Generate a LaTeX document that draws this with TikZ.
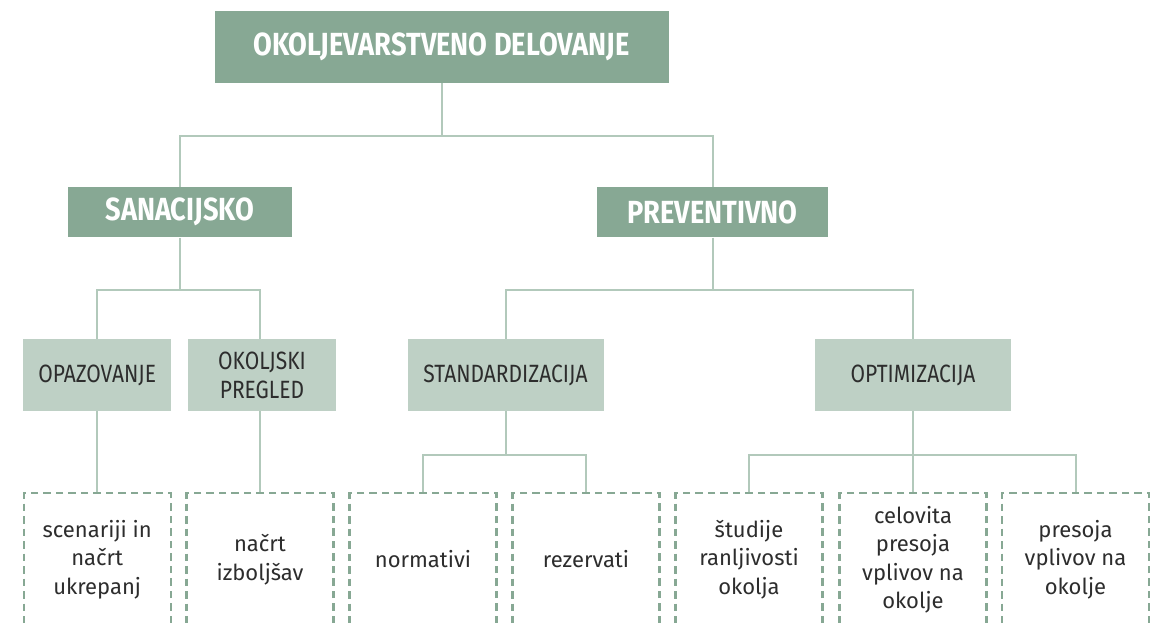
\documentclass[tikz,border=0pt]{standalone}
\usepackage{fontspec}
\newfontfamily\hdfont[FakeStretch=0.85]{Fira Sans}
\newfontfamily\lbfont[FakeStretch=0.84]{Fira Sans}
\newfontfamily\txfont{Fira Sans}
\definecolor{dk}{RGB}{135,168,148}
\definecolor{lt}{RGB}{190,208,197}
\definecolor{ln}{RGB}{178,201,187}
\definecolor{tx}{RGB}{45,45,45}
\pgfdeclarelayer{bg}
\pgfsetlayers{bg,main}
\tikzset{
  topbox/.style={rectangle, fill=dk, text=white, inner sep=0pt,
    font=\hdfont\bfseries\fontsize{32}{38}\selectfont},
  lvlone/.style={rectangle, fill=dk, text=white, inner sep=0pt,
    minimum width=223.5pt, minimum height=50pt,
    font=\hdfont\bfseries\fontsize{32}{38}\selectfont},
  lvltwo/.style={rectangle, fill=lt, text=tx, inner sep=0pt, align=center,
    minimum height=72pt,
    font=\lbfont\fontsize{25}{29}\selectfont},
  leafbox/.style={rectangle, draw=dk, dash pattern=on 7.5pt off 5pt, line width=2.2pt,
    fill=white, text=tx, inner sep=0pt, align=center, minimum width=147pt, minimum height=133pt,
    font=\txfont\fontsize{22}{28.5}\selectfont},
  conn/.style={draw=ln, line width=2pt}
}
\begin{document}
\begin{tikzpicture}[x=1pt,y=1pt]
\useasboundingbox (0,0) rectangle (1163,-623);
\clip (0,0) rectangle (1163,-623);

% junctions
\coordinate (j0) at (441.5,-136.5);
\coordinate (j1) at (180,-290);
\coordinate (j2) at (712.5,-290);
\coordinate (j3) at (505.5,-455.3);
\coordinate (j4) at (913,-455.3);

% nodes
\node[topbox, minimum width=454pt, minimum height=72pt] (top) at (441.5,-47) {OKOLJEVARSTVENO DELOVANJE};
\node[lvlone] (san) at (180,-212.3) {SANACIJSKO};
\node[lvlone, minimum width=231pt] (prev) at (712.5,-212.3) {PREVENTIVNO};

\node[lvltwo, minimum width=148pt] (opa) at (97.2,-375) {OPAZOVANJE};
\node[lvltwo, minimum width=148pt] (okp) at (262,-375) {OKOLJSKI\\PREGLED};
\node[lvltwo, minimum width=196pt] (std) at (505.5,-375) {STANDARDIZACIJA};
\node[lvltwo, minimum width=196pt] (opt) at (913,-375) {OPTIMIZACIJA};

\node[leafbox] (l1) at (97.2,-559.5) {scenariji in\\načrt\\ukrepanj};
\node[leafbox] (l2) at (260,-559.5) {načrt\\izboljšav};
\node[leafbox] (l3) at (423,-559.5) {normativi};
\node[leafbox] (l4) at (586,-559.5) {rezervati};
\node[leafbox] (l5) at (749,-559.5) {študije\\ranljivosti\\okolja};
\node[leafbox] (l6) at (913,-559.5) {celovita\\presoja\\vplivov na\\okolje};
\node[leafbox] (l7) at (1075.5,-559.5) {presoja\\vplivov na\\okolje};

% connectors, behind the boxes
\begin{pgfonlayer}{bg}
\fill[white] (0,0) rectangle (1163,-623);
\draw[conn] (top.south) -- (j0);
\draw[conn] (j0) -| (san.north);
\draw[conn] (j0) -| (prev.north);

\draw[conn] (san.south) -- (j1);
\draw[conn] (j1) -| (opa.north);
\draw[conn] (j1) -| (260,-338.8) coordinate (okptop);
\draw[conn] (opa.south) -- (l1.north);
\draw[conn] (okptop |- okp.south) -- (l2.north);

\draw[conn] (prev.south) -- (j2);
\draw[conn] (j2) -| (std.north);
\draw[conn] (j2) -| (opt.north);

\draw[conn] (std.south) -- (j3);
\draw[conn] (j3) -| (l3.north);
\draw[conn] (j3) -| (l4.north);

\draw[conn] (opt.south) -- (l6.north);
\draw[conn] (j4) -| (l5.north);
\draw[conn] (j4) -| (l7.north);
\end{pgfonlayer}
\end{tikzpicture}
\end{document}
